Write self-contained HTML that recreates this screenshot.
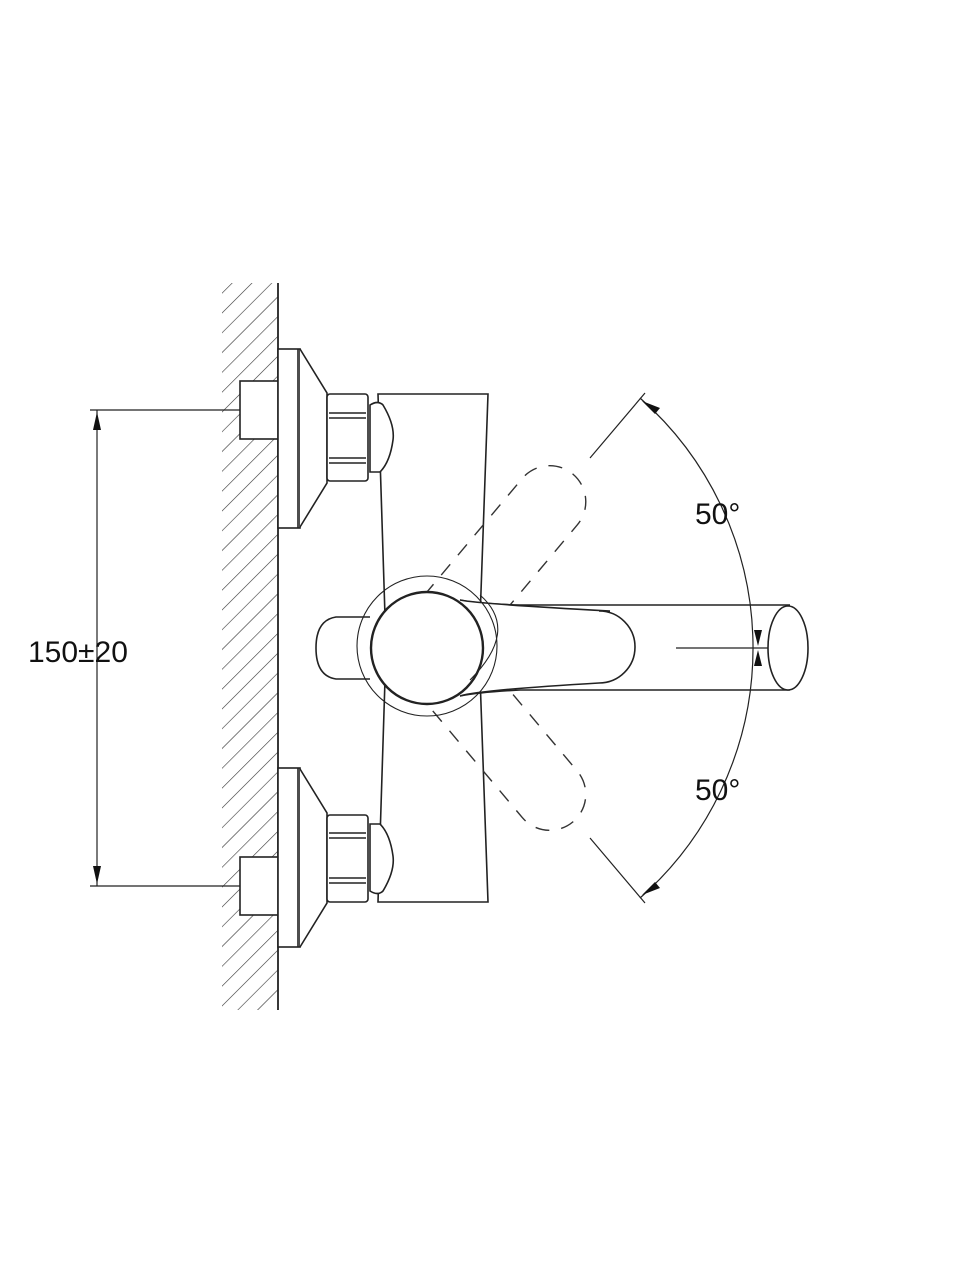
<!DOCTYPE html>
<html><head><style>body{margin:0;background:#fff}svg{display:block}</style></head><body>
<svg width="960" height="1280" viewBox="0 0 960 1280" xmlns="http://www.w3.org/2000/svg">
<defs>
<pattern id="h" width="14" height="14" patternUnits="userSpaceOnUse" patternTransform="rotate(45)">
<line x1="0" y1="0" x2="0" y2="14" stroke="#333" stroke-width="1.2"/>
</pattern>
<clipPath id="wc"><rect x="222" y="283" width="56" height="727"/></clipPath>
<g id="conn" fill="#fff" stroke="#222" stroke-width="1.6">
<rect x="240" y="381" width="38" height="58"/>
<rect x="278" y="349" width="22" height="179"/>
<line x1="298" y1="349" x2="298" y2="528"/>
<path d="M300 349 L327 393 L327 483 L300 527"/>
<rect x="327" y="394" width="41" height="87" rx="3"/>
<line x1="329" y1="413" x2="366" y2="413"/><line x1="329" y1="418" x2="366" y2="418"/>
<line x1="329" y1="458" x2="366" y2="458"/><line x1="329" y1="463" x2="366" y2="463"/>
<path d="M370 405 Q378 400 383 405 Q395 425 393 440 Q390 462 380 472 L370 472 Z"/>
</g>
</defs>
<g clip-path="url(#wc)"><rect x="222" y="283" width="56" height="727" fill="url(#h)"/></g>
<line x1="278" y1="283" x2="278" y2="1010" stroke="#222" stroke-width="1.8"/>
<path d="M378 394 L488 394 L479 648 L488 902 L378 902 L386 648 Z" fill="#fff" stroke="#222" stroke-width="1.6"/>
<use href="#conn"/>
<use href="#conn" transform="translate(0,1296) scale(1,-1)"/>
<g fill="none" stroke="#333" stroke-width="1.4" stroke-dasharray="14,12">
<path d="M440 612 L618 612 A36 36 0 0 1 618 684 L440 684" transform="rotate(-50 427 648)"/>
<path d="M440 612 L618 612 A36 36 0 0 1 618 684 L440 684" transform="rotate(50 427 648)"/>
</g>
<g fill="none" stroke="#222" stroke-width="1.6">
<path d="M460 600 Q480 604 520 605 L790 605"/>
<path d="M460 696 Q480 692 520 690 L790 690"/>
<ellipse cx="788" cy="648" rx="20" ry="42" fill="#fff"/>
<path d="M460 600 Q480 604 610 611 L599 611 A36 36 0 0 1 599 683 Q480 690 460 696" fill="#fff"/>
<path d="M370 617 L336 617 Q316 620 316 648 Q316 676 336 679 L370 679" fill="#fff"/>
<circle cx="427" cy="646" r="70" stroke-width="1.1"/>
<circle cx="427" cy="648" r="56" fill="#fff" stroke-width="2.4"/>
<path d="M480 595 Q520 630 470 680" stroke-width="1.1"/>
</g>
<g fill="none" stroke="#222" stroke-width="1.2">
<path d="M640 398 A333 333 0 0 1 640 898"/>
<line x1="590" y1="458" x2="645" y2="393"/>
<line x1="590" y1="838" x2="645" y2="903"/>
<line x1="676" y1="648" x2="768" y2="648"/>
<line x1="97" y1="410" x2="97" y2="886"/>
<line x1="90" y1="410" x2="240" y2="410"/>
<line x1="90" y1="886" x2="240" y2="886"/>
</g>
<g fill="#111">
<polygon points="97,412 93,430 101,430"/>
<polygon points="97,884 93,866 101,866"/>
<polygon points="642,401 660,408 655,414"/>
<polygon points="642,895 660,888 655,882"/>
<polygon points="758,646 754,630 762,630"/>
<polygon points="758,650 754,666 762,666"/>
</g>
<g font-family="Liberation Sans, sans-serif" font-size="30" fill="#111">
<text x="28" y="662">150±20</text>
<text x="695" y="524">50°</text>
<text x="695" y="800">50°</text>
</g>
</svg>
</body></html>
